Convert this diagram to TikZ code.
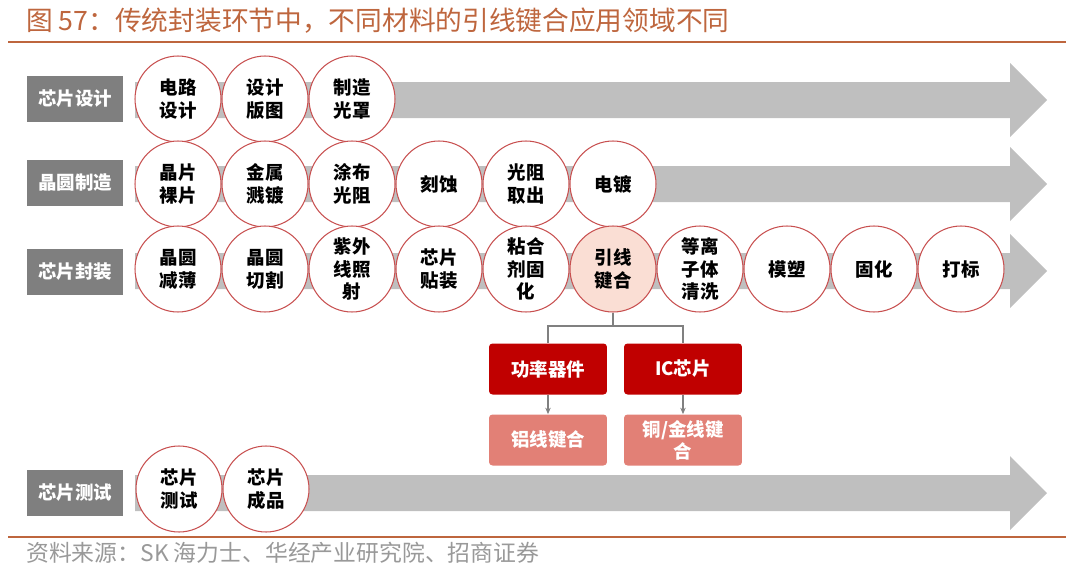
\documentclass[tikz,border=0pt]{standalone}
\usepackage{fontspec}
\setmainfont{Noto Sans CJK SC}
\usepackage{xcolor}
\usepackage{tikz}
\usetikzlibrary{arrows.meta,positioning,calc}
\definecolor{titlebrown}{RGB}{190,102,62}
\definecolor{ringred}{RGB}{200,80,80}
\definecolor{bondpink}{RGB}{250,222,212}
\definecolor{darkred}{RGB}{192,0,0}
\definecolor{lightred}{RGB}{226,128,118}
\definecolor{bandgray}{RGB}{191,191,191}
\definecolor{labelgray}{RGB}{127,127,127}
\newcommand{\bandarrow}[1]{\fill[bandgray] (135,#1-18) -- (1010,#1-18) -- (1010,#1-37) -- (1047,#1) -- (1010,#1+37) -- (1010,#1+18) -- (135,#1+18) -- cycle;}

\begin{document}
\begin{tikzpicture}[
  x=0.02cm, y=-0.02cm,
  stagelabel/.style={fill=labelgray, text=white, minimum width=19.2mm, minimum height=9.2mm, inner sep=0pt, font=\fontsize{10.5}{12}\selectfont\bfseries},
  stepcircle/.style={circle, draw=ringred, fill=white, line width=0.6pt, minimum size=17.2mm, inner sep=0pt, align=center, font=\fontsize{10.5}{13}\selectfont\bfseries},
  appbox/.style={rounded corners=2pt, fill=darkred, text=white, minimum width=23.6mm, minimum height=10.2mm, inner sep=0pt, align=center, font=\fontsize{10.5}{12.5}\selectfont\bfseries},
  wirebox/.style={rounded corners=2pt, fill=lightred, text=white, minimum width=23.6mm, minimum height=10.2mm, inner sep=0pt, align=center, font=\fontsize{10.5}{12.5}\selectfont\bfseries},
  link/.style={draw=gray, line width=0.6pt},
  arrow/.style={-{Stealth[length=1.3mm,width=1.1mm]}, draw=gray, line width=0.6pt}
]
\useasboundingbox (0,0) rectangle (1080,572);

% Title and rules
\node[anchor=west, text=titlebrown, font=\fontsize{15.2}{17}\selectfont] (title) at (20,21) {图 57：传统封装环节中，不同材料的引线键合应用领域不同};
\draw[titlebrown, line width=1.4pt] (8,42) -- (1066,42);
\draw[titlebrown, line width=1.4pt] (8,537) -- (1066,537);
\node[anchor=west, text=gray!80, font=\fontsize{13}{15}\selectfont] (source) at (20,553) {资料来源：SK 海力士、华经产业研究院、招商证券};

% Background arrows
\bandarrow{100}
\bandarrow{184}
\bandarrow{271}
\bandarrow{493}

% Row 1: chip design
\node[stagelabel] (design) at (75,99) {芯片设计};
\node[stepcircle] (d1) at (178,99) {电路\\设计};
\node[stepcircle] (d2) at (265,99) {设计\\版图};
\node[stepcircle] (d3) at (352,99) {制造\\光罩};

% Row 2: wafer fabrication
\node[stagelabel] (wafer) at (75,183) {晶圆制造};
\node[stepcircle] (w1) at (178,184) {晶片\\裸片};
\node[stepcircle] (w2) at (265,184) {金属\\溅镀};
\node[stepcircle] (w3) at (352,184) {涂布\\光阻};
\node[stepcircle] (w4) at (439,184) {刻蚀};
\node[stepcircle] (w5) at (526,184) {光阻\\取出};
\node[stepcircle] (w6) at (613,184) {电镀};

% Row 3: packaging
\node[stagelabel] (pack) at (75,272) {芯片封装};
\node[stepcircle] (p1) at (178,269) {晶圆\\减薄};
\node[stepcircle] (p2) at (265,269) {晶圆\\切割};
\node[stepcircle] (p3) at (352,269) {紫外\\线照\\射};
\node[stepcircle] (p4) at (439,269) {芯片\\贴装};
\node[stepcircle] (p5) at (526,269) {粘合\\剂固\\化};
\node[stepcircle, fill=bondpink] (bond) at (613,269) {引线\\键合};
\node[stepcircle] (p7) at (700,269) {等离\\子体\\清洗};
\node[stepcircle] (p8) at (787,269) {模塑};
\node[stepcircle] (p9) at (874,269) {固化};
\node[stepcircle] (p10) at (961,269) {打标};

% Wire bonding by application
\node[appbox] (power) at (548,369) {功率器件};
\node[appbox] (icchip) at (683,369) {IC芯片};
\node[wirebox] (alwire) at (548,440) {铝线键合};
\node[wirebox] (cuwire) at (683,440) {铜/金线键\\合};
\coordinate (split) at (613,326);
\draw[link] (bond) -- (split) -| (power);
\draw[link] (split) -| (icchip);
\draw[arrow] (power) -- (alwire);
\draw[arrow] (icchip) -- (cuwire);

% Row 4: testing
\node[stagelabel] (test) at (75,493) {芯片测试};
\node[stepcircle] (t1) at (179,489) {芯片\\测试};
\node[stepcircle] (t2) at (266,489) {芯片\\成品};
\end{tikzpicture}
\end{document}
